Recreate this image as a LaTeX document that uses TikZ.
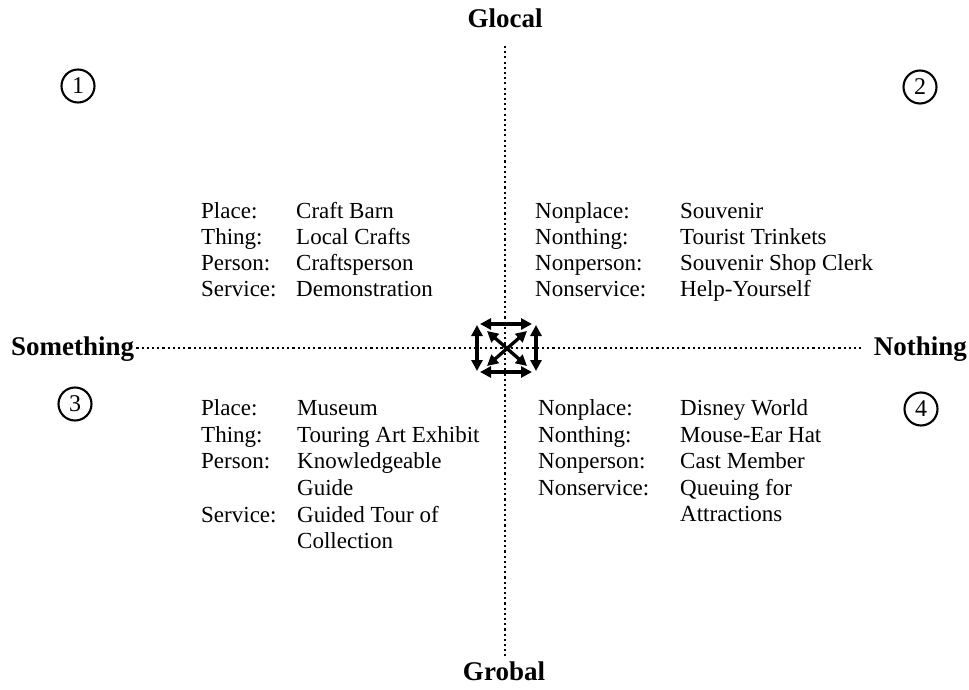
\documentclass[tikz,border=0pt]{standalone}
\usepackage{fontspec}
\setmainfont{Liberation Serif}
\usetikzlibrary{arrows.meta}
\begin{document}
\begin{tikzpicture}[x=1pt,y=-1pt,
  txt/.style={anchor=base west,inner sep=0pt,font=\fontsize{23}{26}\selectfont},
  axislabel/.style={inner sep=0pt,font=\fontsize{27}{30}\selectfont\bfseries},
  dotline/.style={line width=2.1pt,dash pattern=on 2.1pt off 3.1pt},
  num/.style={circle,draw,line width=2.1pt,minimum size=33pt,inner sep=0pt,font=\fontsize{24}{24}\selectfont},
  dbl/.style={line width=3.3pt,{Triangle[length=11pt,width=11pt]}-{Triangle[length=11pt,width=11pt]}}]
\useasboundingbox (0,0) rectangle (969,690);
% axis labels
\node[axislabel,anchor=base] (glocal) at (505,28) {Glocal};
\node[axislabel,anchor=base] (grobal) at (504,680) {Grobal};
\node[axislabel,anchor=base west] (something) at (11,355) {Something};
\node[axislabel,anchor=base east] (nothing) at (967,355) {Nothing};
% dotted axes
\coordinate (vtop) at (505,46);
\coordinate (vbot) at (505,656);
\draw[dotline] (vtop) -- (vbot);
\draw[dotline,shorten <=2pt,shorten >=10pt] (something.east |- 0,348) -- (nothing.west |- 0,348);
% quadrant numbers
\node[num] (n1) at (78,86) {1};
\node[num] (n2) at (920,87) {2};
\node[num] (n3) at (75,404) {3};
\node[num] (n4) at (921,409) {4};
% center arrows
\coordinate (tl) at (487,331);
\coordinate (tr) at (527,331);
\coordinate (bl) at (487,366);
\coordinate (br) at (527,366);
\coordinate (t1) at (480,324);
\coordinate (t2) at (532,324);
\coordinate (b1) at (480,372);
\coordinate (b2) at (532,372);
\coordinate (l1) at (477,325);
\coordinate (l2) at (477,371);
\coordinate (r1) at (536,325);
\coordinate (r2) at (536,371);
\draw[dbl] (t1) -- (t2);
\draw[dbl] (b1) -- (b2);
\draw[dbl] (l1) -- (l2);
\draw[dbl] (r1) -- (r2);
\draw[dbl] (tl) -- (br);
\draw[dbl] (tr) -- (bl);
% quadrant 1
\node[txt] (a1) at (201,218) {Place:};
\node[txt] (a2) at (201,244) {Thing:};
\node[txt] (a3) at (201,270) {Person:};
\node[txt] (a4) at (201,296) {Service:};
\node[txt] (av1) at (296,218) {Craft Barn};
\node[txt] (av2) at (296,244) {Local Crafts};
\node[txt] (av3) at (296,270) {Craftsperson};
\node[txt] (av4) at (296,296) {Demonstration};
% quadrant 2
\node[txt] (b1n) at (535,218) {Nonplace:};
\node[txt] (b2n) at (535,244) {Nonthing:};
\node[txt] (b3n) at (535,270) {Nonperson:};
\node[txt] (b4n) at (535,296) {Nonservice:};
\node[txt] (bv1) at (680,218) {Souvenir};
\node[txt] (bv2) at (680,244) {Tourist Trinkets};
\node[txt] (bv3) at (680,270) {Souvenir Shop Clerk};
\node[txt] (bv4) at (680,296) {Help-Yourself};
% quadrant 3
\node[txt] (c1) at (201,415) {Place:};
\node[txt] (c2) at (201,442) {Thing:};
\node[txt] (c3) at (201,468) {Person:};
\node[txt] (c4) at (201,522) {Service:};
\node[txt] (cv1) at (297,415) {Museum};
\node[txt] (cv2) at (297,442) {Touring Art Exhibit};
\node[txt] (cv3) at (297,468) {Knowledgeable};
\node[txt] (cv3b) at (297,495) {Guide};
\node[txt] (cv4) at (297,522) {Guided Tour of};
\node[txt] (cv4b) at (297,548) {Collection};
% quadrant 4
\node[txt] (d1) at (538,415) {Nonplace:};
\node[txt] (d2) at (538,442) {Nonthing:};
\node[txt] (d3) at (538,468) {Nonperson:};
\node[txt] (d4) at (538,495) {Nonservice:};
\node[txt] (dv1) at (680,415) {Disney World};
\node[txt] (dv2) at (680,442) {Mouse-Ear Hat};
\node[txt] (dv3) at (680,468) {Cast Member};
\node[txt] (dv4) at (680,495) {Queuing for};
\node[txt] (dv4b) at (680,521) {Attractions};
\end{tikzpicture}
\end{document}
